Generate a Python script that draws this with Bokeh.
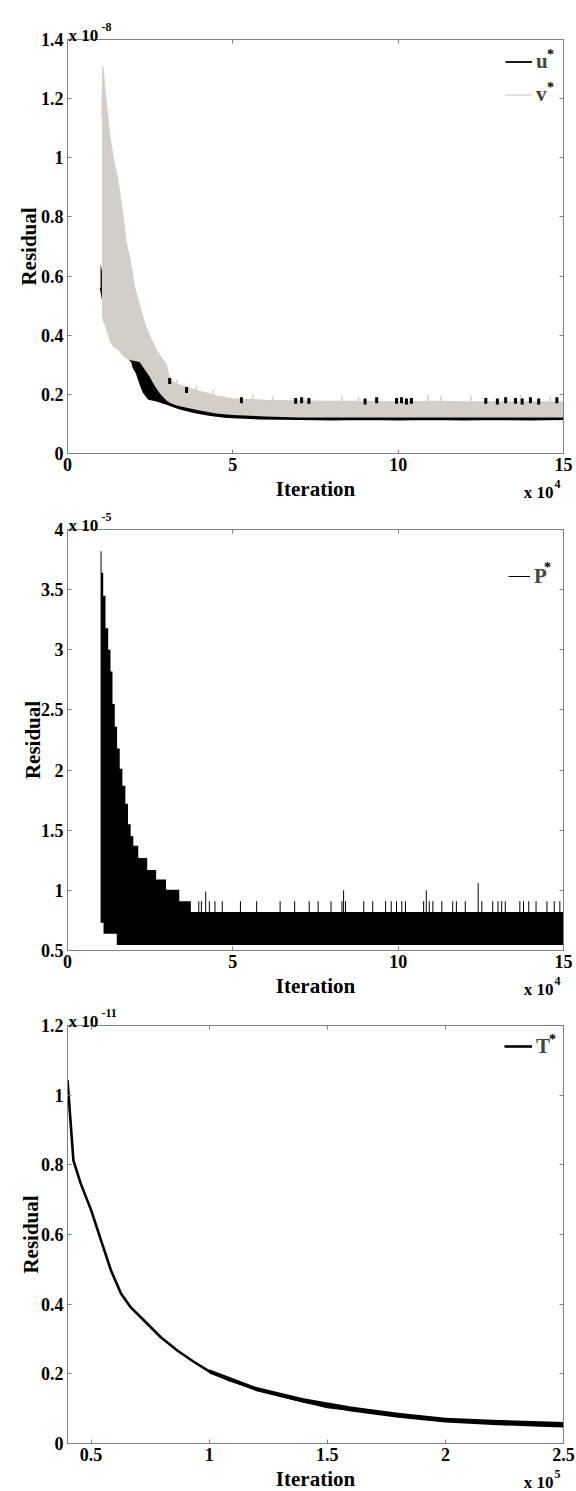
import math
import numpy as np
from bokeh.plotting import figure
from bokeh.models import Range1d, LinearAxis, FixedTicker, Legend, LegendItem
from bokeh.core.properties import value
from bokeh.layouts import column
from bokeh.embed import file_html
from bokeh.resources import INLINE

FONT = "Liberation Serif"
AXC = "#808080"
GRAY = "#d3cfc8"

# ---------------- Panel 1: u*, v* (iteration x 1e4, residual x 1e-8) ----------------
p1_xticks = [0, 5, 10, 15]
p1_xlabels = ["0", "5", "10", "15"]
p1_yticks = [0, 0.2, 0.4, 0.6, 0.8, 1.0, 1.2, 1.4]
p1_ylabels = ["0", "0.2", "0.4", "0.6", "0.8", "1", "1.2", "1.4"]

u_iter = [1.00, 1.02, 1.10, 1.30, 1.50, 1.70, 1.95, 2.00, 2.10, 2.20, 2.30, 2.45, 2.70, 3.00,
          3.40, 3.82, 4.32, 4.82, 5.80, 7.00, 8.00, 9.00, 10.0, 11.0, 12.0, 13.0, 14.0, 15.0]
u_lo = [0.56, 0.55, 0.50, 0.43, 0.38, 0.34, 0.31, 0.29, 0.27, 0.236, 0.207, 0.185, 0.179, 0.168,
        0.152, 0.140, 0.130, 0.123, 0.118, 0.116, 0.115, 0.116, 0.115, 0.116, 0.115, 0.116, 0.115, 0.116]
u_hi = [0.64, 0.63, 0.58, 0.52, 0.46, 0.41, 0.33, 0.32, 0.315, 0.31, 0.30, 0.28, 0.24, 0.20,
        0.18, 0.17, 0.165, 0.165, 0.165, 0.165, 0.165, 0.165, 0.165, 0.165, 0.165, 0.165, 0.165, 0.165]

v_iter = [1.04, 1.07, 1.14, 1.28, 1.38, 1.53, 1.68, 1.78, 1.90, 2.03, 2.18, 2.33, 2.48, 2.60,
          2.69, 2.80, 2.99, 3.09, 3.30, 3.60, 4.00, 4.50, 5.00, 6.00, 7.00, 8.00, 9.00, 10.0,
          11.0, 12.0, 13.0, 14.0, 15.0]
v_hi = [1.14, 1.31, 1.22, 1.07, 1.00, 0.92, 0.80, 0.71, 0.65, 0.56, 0.50, 0.44, 0.40, 0.37,
        0.35, 0.33, 0.30, 0.25, 0.235, 0.225, 0.21, 0.195, 0.185, 0.180, 0.178, 0.176, 0.176, 0.175,
        0.176, 0.175, 0.175, 0.175, 0.175]
v_lo = [0.46, 0.45, 0.43, 0.38, 0.36, 0.35, 0.33, 0.32, 0.315, 0.313, 0.309, 0.285, 0.26, 0.236,
        0.22, 0.202, 0.179, 0.172, 0.162, 0.155, 0.145, 0.135, 0.130, 0.125, 0.122, 0.122, 0.122, 0.122,
        0.122, 0.122, 0.122, 0.122, 0.122]

# visible black bursts of u* above the grey band
u_spike_iter = [3.09, 3.60, 5.26, 6.90, 7.08, 7.30, 9.00, 9.35, 9.95, 10.1, 10.25, 10.4,
                12.65, 13.0, 13.25, 13.55, 13.75, 14.0, 14.25, 14.8]
u_spike_top = [0.255, 0.225, 0.19, 0.188, 0.19, 0.188, 0.186, 0.19, 0.188, 0.19, 0.186, 0.188,
               0.188, 0.186, 0.19, 0.188, 0.186, 0.19, 0.186, 0.19]
# thin grey spikes of v*
v_spike_iter = [3.3, 3.9, 4.4, 5.6, 6.2, 8.3, 8.8, 10.9, 11.3, 12.2, 13.7, 14.6]
v_spike_top = [0.25, 0.23, 0.215, 0.20, 0.195, 0.195, 0.19, 0.20, 0.195, 0.195, 0.20, 0.195]

# ---------------- Panel 2: P* (iteration x 1e4, residual x 1e-5) ----------------
p2_xticks = [0, 5, 10, 15]
p2_xlabels = ["0", "5", "10", "15"]
p2_yticks = [0.5, 1.0, 1.5, 2.0, 2.5, 3.0, 3.5, 4.0]
p2_ylabels = ["0.5", "1", "1.5", "2", "2.5", "3", "3.5", "4"]

P_top_iter = [1.00, 1.03, 1.08, 1.15, 1.23, 1.30, 1.36, 1.43, 1.50, 1.58, 1.66, 1.75, 1.83,
              1.91, 1.99, 2.14, 2.41, 2.68, 2.98, 3.38, 3.73, 15.0]
P_top = [3.82, 3.64, 3.45, 3.18, 3.00, 2.82, 2.55, 2.36, 2.18, 2.01, 1.87, 1.72, 1.55,
         1.45, 1.37, 1.27, 1.17, 1.09, 1.005, 0.91, 0.82, 0.82]
P_low_iter = [1.00, 1.09, 1.49, 15.0]
P_low = [0.73, 0.64, 0.545, 0.545]

P_spike_iter = [3.47, 3.97, 4.05, 4.18, 4.29, 4.46, 4.68, 5.23, 5.72, 6.43, 6.87, 7.31, 7.58,
                7.97, 8.30, 8.35, 8.41, 8.96, 9.23, 9.62, 9.79, 9.95, 10.11, 10.22, 10.77, 10.85,
                10.94, 11.05, 11.32, 11.65, 11.76, 12.03, 12.42, 12.53, 12.86, 13.02, 13.13,
                13.24, 13.68, 13.79, 13.95, 14.17, 14.50, 14.72, 14.89]
P_spike_top = [0.91, 0.91, 0.91, 0.99, 0.91, 0.91, 0.91, 0.91, 0.91, 0.91, 0.91, 0.91, 0.91,
               0.91, 0.91, 1.00, 0.91, 0.91, 0.91, 0.91, 0.91, 0.91, 0.91, 0.91, 0.91, 1.00,
               0.91, 0.91, 0.91, 0.91, 0.91, 0.91, 1.06, 0.91, 0.91, 0.91, 0.91,
               0.91, 0.91, 0.91, 0.91, 0.91, 0.91, 0.91, 0.91]

# ---------------- Panel 3: T* (iteration x 1e5, residual x 1e-11) ----------------
p3_xticks = [0.5, 1.0, 1.5, 2.0, 2.5]
p3_xlabels = ["0.5", "1", "1.5", "2", "2.5"]
p3_yticks = [0, 0.2, 0.4, 0.6, 0.8, 1.0, 1.2]
p3_ylabels = ["0", "0.2", "0.4", "0.6", "0.8", "1", "1.2"]

T_iter = [0.40, 0.425, 0.456, 0.50, 0.542, 0.584, 0.627, 0.669, 0.724, 0.795, 0.865, 0.936,
          1.00, 1.077, 1.218, 1.359, 1.50, 1.64, 1.80, 2.00, 2.20, 2.40, 2.50]
T_val = [1.043, 0.813, 0.746, 0.670, 0.583, 0.497, 0.430, 0.390, 0.353, 0.305, 0.267, 0.234,
         0.207, 0.184, 0.153, 0.128, 0.105, 0.094, 0.080, 0.066, 0.060, 0.055, 0.053]
T_noise_iter = [1.0, 1.2, 1.4, 1.6, 1.8, 2.0, 2.2, 2.4, 2.5]
T_noise_lo = [0.201, 0.150, 0.117, 0.092, 0.074, 0.060, 0.053, 0.048, 0.046]
T_noise_hi = [0.213, 0.162, 0.130, 0.106, 0.088, 0.074, 0.068, 0.064, 0.062]


def style_axes(p, xticks, xlabels, yticks, ylabels):
    for ax, ticks, labels in ((p.xaxis[0], xticks, xlabels), (p.yaxis[0], yticks, ylabels)):
        ax.ticker = FixedTicker(ticks=ticks)
        ax.major_label_overrides = {t: l for t, l in zip(ticks, labels)}
        ax.major_label_text_font = FONT
        ax.major_label_text_font_style = "bold"
        ax.major_label_text_font_size = "18px"
        ax.major_label_text_color = "black"
        ax.axis_line_color = AXC
        ax.major_tick_line_color = AXC
        ax.major_tick_in = 4
        ax.major_tick_out = 0
        ax.minor_tick_line_color = None
        ax.major_label_standoff = 4
    for loc, ticks in (("above", xticks), ("right", yticks)):
        ax = LinearAxis(ticker=FixedTicker(ticks=ticks), major_label_text_font_size="1px",
                        major_label_text_color=None, major_label_standoff=0,
                        axis_line_color=AXC, major_tick_line_color=AXC,
                        major_tick_in=4, major_tick_out=0, minor_tick_line_color=None)
        p.add_layout(ax, loc)
    p.xgrid.visible = False
    p.ygrid.visible = False
    p.outline_line_color = AXC


def put_text(p, x, y, text, size, dx, dy, align="left", baseline="alphabetic", angle=0.0):
    p.text(x=[x], y=[y], text=[text], x_offset=dx, y_offset=dy, angle=angle,
           text_font=value(FONT), text_font_style="bold", text_font_size=size,
           text_align=align, text_baseline=baseline, text_color="black", level="overlay")


def decorate(p, xr, yr, res_dx, exp_top, exp_bot):
    x0, x1 = xr
    y0, y1 = yr
    put_text(p, x0, (y0 + y1) / 2, "Residual", "21px", res_dx, 0, align="center",
             baseline="middle", angle=math.pi / 2)
    put_text(p, (x0 + x1) / 2, y0, "Iteration", "21px", 0, 35, align="center", baseline="middle")
    put_text(p, x0, y1, "x 10", "17px", 1, -4)
    put_text(p, x0, y1, exp_top, "12px", 34, -13)
    put_text(p, x1, y0, "x 10", "17px", -10, 39, align="right")
    put_text(p, x1, y0, exp_bot, "12px", -9, 30)


def make_fig(height, xr, yr, bl, br, bt, bb):
    return figure(width=576, height=height, x_range=Range1d(*xr), y_range=Range1d(*yr),
                  output_backend="svg", toolbar_location=None,
                  min_border_left=bl, min_border_right=br, min_border_top=bt,
                  min_border_bottom=bb, background_fill_color="white",
                  border_fill_color="white")


def legend(p, items, x, y, gw, gh):
    leg = Legend(items=items, location=(x, y), orientation="vertical", glyph_width=gw,
                 glyph_height=gh, label_height=gh, spacing=0, padding=0, margin=0,
                 label_standoff=4, label_text_font=FONT, label_text_font_style="bold",
                 label_text_font_size="21px", border_line_alpha=0, background_fill_alpha=0)
    p.add_layout(leg)


def star(p, xr, yr, dx, dy):
    put_text(p, xr[1], yr[1], "*", "14px", dx, dy, align="center", baseline="middle")


# ---- panel 1
xr1, yr1 = (0, 15), (0, 1.4)
p1 = make_fig(505, xr1, yr1, 67, 11, 39, 52)
style_axes(p1, p1_xticks, p1_xlabels, p1_yticks, p1_ylabels)
p1.varea(x=u_iter, y1=u_lo, y2=u_hi, fill_color="black")
r_u = p1.line(u_iter, u_lo, line_color="black", line_width=1.8)
p1.varea(x=v_iter, y1=v_lo, y2=v_hi, fill_color=GRAY)
r_v = p1.line(v_iter, v_hi, line_color=GRAY, line_width=1.2)
v_sp_base = list(np.interp(v_spike_iter, v_iter, v_hi))
p1.segment(x0=v_spike_iter, y0=v_sp_base, x1=v_spike_iter, y1=v_spike_top,
           line_color=GRAY, line_width=1.5)
u_sp_base = [t - 0.02 for t in u_spike_top]
p1.segment(x0=u_spike_iter, y0=u_sp_base, x1=u_spike_iter, y1=u_spike_top,
           line_color="black", line_width=3)
decorate(p1, xr1, yr1, -39, "-8", "4")
legend(p1, [LegendItem(label="u", renderers=[r_u]), LegendItem(label="v", renderers=[r_v])],
       438, 342.5, 27, 33)
star(p1, xr1, yr1, -13, 15)
star(p1, xr1, yr1, -13, 48)

# ---- panel 2
xr2, yr2 = (0, 15), (0.5, 4.0)
p2 = make_fig(495, xr2, yr2, 62, 12, 24, 50)
style_axes(p2, p2_xticks, p2_xlabels, p2_yticks, p2_ylabels)


def step_eval(xs, ys, x):
    v = ys[0]
    for xi, yi in zip(xs, ys):
        if x >= xi - 1e-9:
            v = yi
    return v


brk = sorted(set(P_top_iter) | set(P_low_iter))
sx, s_lo, s_hi = [], [], []
for a, b in zip(brk[:-1], brk[1:]):
    lo = step_eval(P_low_iter, P_low, a)
    hi = step_eval(P_top_iter, P_top, a)
    sx += [a, b]
    s_lo += [lo, lo]
    s_hi += [hi, hi]
p2.varea(x=sx, y1=s_lo, y2=s_hi, fill_color="black")
P_sp_base = [step_eval(P_top_iter, P_top, x) for x in P_spike_iter]
r_p = p2.segment(x0=P_spike_iter, y0=P_sp_base, x1=P_spike_iter, y1=P_spike_top,
                 line_color="black", line_width=1)
decorate(p2, xr2, yr2, -35, "-5", "4")
legend(p2, [LegendItem(label="P", renderers=[r_p])], 441, 359, 22, 30)
star(p2, xr2, yr2, -16, 38)

# ---- panel 3
xr3, yr3 = (0.4, 2.5), (0, 1.2)
p3 = make_fig(491, xr3, yr3, 67, 13, 25, 48)
style_axes(p3, p3_xticks, p3_xlabels, p3_yticks, p3_ylabels)
p3.varea(x=T_noise_iter, y1=T_noise_lo, y2=T_noise_hi, fill_color="black")
r_t = p3.line(T_iter, T_val, line_color="black", line_width=2.6)
decorate(p3, xr3, yr3, -37, "-11", "5")
legend(p3, [LegendItem(label="T", renderers=[r_t])], 437, 382, 28, 30)
star(p3, xr3, yr3, -11, 14)

layout = column(p1, p2, p3, spacing=0)
open("out.html", "w").write(file_html(layout, INLINE))
